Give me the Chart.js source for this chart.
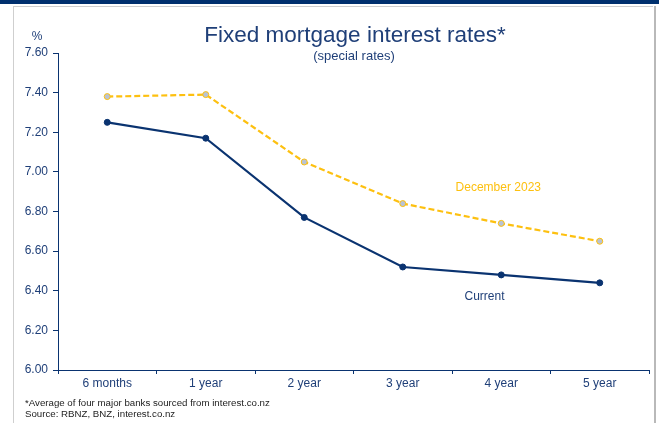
<!DOCTYPE html>
<html>
<head>
<meta charset="utf-8">
<script src="https://cdn.jsdelivr.net/npm/chart.js@4"></script>
<style>
  html, body { margin: 0; padding: 0; background: #fff; }
  #wrap { width: 659px; height: 423px; position: relative; }
</style>
</head>
<body>
<div id="wrap"><canvas id="chart" width="659" height="423"></canvas></div>
<script>
const categories = ['6 months', '1 year', '2 year', '3 year', '4 year', '5 year']
const currentRates = [7.25, 7.17, 6.77, 6.52, 6.48, 6.44]
const dec2023Rates = [7.38, 7.39, 7.05, 6.84, 6.74, 6.65]
const yTicks = [6.0, 6.2, 6.4, 6.6, 6.8, 7.0, 7.2, 7.4, 7.6]

const navy = '#0a3370'
const textNavy = '#1f3f78'
const gold = '#fdc010'
const font = '"Liberation Sans", Arial, sans-serif'

// frame, title, footnotes and series labels
const decorations = {
    id: 'decorations',
    beforeDraw(chart) {
        let ctx = chart.ctx
        ctx.save()
        ctx.fillStyle = '#fff'
        ctx.fillRect(0, 0, chart.width, chart.height)
        ctx.fillStyle = '#00306e'
        ctx.fillRect(0, 0, chart.width, 4)
        ctx.fillStyle = '#cfcfcf'
        ctx.fillRect(13, 6, 640, 1)
        ctx.fillRect(13, 6, 1, chart.height - 6)
        ctx.fillStyle = '#b9b9b9'
        ctx.fillRect(654, 6, 2, chart.height - 6)
        ctx.restore()
    },
    afterDraw(chart) {
        let ctx = chart.ctx
        let x = chart.scales.x
        let y = chart.scales.y
        ctx.save()
        ctx.textBaseline = 'middle'
        ctx.textAlign = 'center'
        ctx.fillStyle = textNavy
        ctx.font = '22.5px ' + font
        ctx.fillText('Fixed mortgage interest rates*', 355, 36)
        ctx.font = '13px ' + font
        ctx.fillText('(special rates)', 354, 56)
        ctx.font = '12px ' + font
        ctx.fillText('%', 37, 37)

        ctx.fillStyle = gold
        ctx.fillText('December 2023', x.getPixelForValue(3.97), y.getPixelForValue(6.92))
        ctx.fillStyle = textNavy
        ctx.fillText('Current', x.getPixelForValue(3.83), y.getPixelForValue(6.37))

        ctx.textAlign = 'left'
        ctx.fillStyle = '#222'
        ctx.font = '9.7px ' + font
        ctx.fillText('*Average of four major banks sourced from interest.co.nz', 25, 403)
        ctx.fillText('Source: RBNZ, BNZ, interest.co.nz', 25, 414)
        ctx.restore()
    }
}

new Chart(document.getElementById('chart'), {
    type: 'line',
    data: {
        labels: categories,
        datasets: [
            {
                label: 'December 2023',
                data: dec2023Rates,
                borderColor: gold,
                borderWidth: 2.2,
                borderDash: [6, 3],
                pointRadius: 3,
                pointBackgroundColor: '#b9c3d3',
                pointBorderColor: gold,
                pointBorderWidth: 1,
                tension: 0
            },
            {
                label: 'Current',
                data: currentRates,
                borderColor: navy,
                borderWidth: 2.2,
                pointRadius: 3,
                pointBackgroundColor: navy,
                pointBorderColor: navy,
                pointBorderWidth: 1,
                tension: 0
            }
        ]
    },
    options: {
        responsive: false,
        animation: false,
        devicePixelRatio: 1,
        layout: { padding: { left: 0, right: 10, top: 53, bottom: 0 } },
        plugins: {
            legend: { display: false },
            title: { display: false },
            tooltip: { enabled: false }
        },
        scales: {
            x: {
                offset: true,
                grid: {
                    offset: true,
                    drawOnChartArea: false,
                    color: navy,
                    tickLength: 4
                },
                border: { color: navy, width: 1 },
                ticks: { color: textNavy, font: { family: font, size: 12 }, padding: 2 },
                afterFit(scale) { scale.height = 53 }
            },
            y: {
                min: 6.0,
                max: 7.6,
                afterBuildTicks(scale) { scale.ticks = yTicks.map(v => ({ value: v })) },
                grid: {
                    drawOnChartArea: false,
                    color: navy,
                    tickLength: 5
                },
                border: { color: navy, width: 1 },
                ticks: {
                    color: textNavy,
                    font: { family: font, size: 12 },
                    padding: 5,
                    callback: v => v.toFixed(2)
                },
                afterFit(scale) { scale.width = 58 }
            }
        }
    },
    plugins: [decorations]
})
</script>
</body>
</html>
